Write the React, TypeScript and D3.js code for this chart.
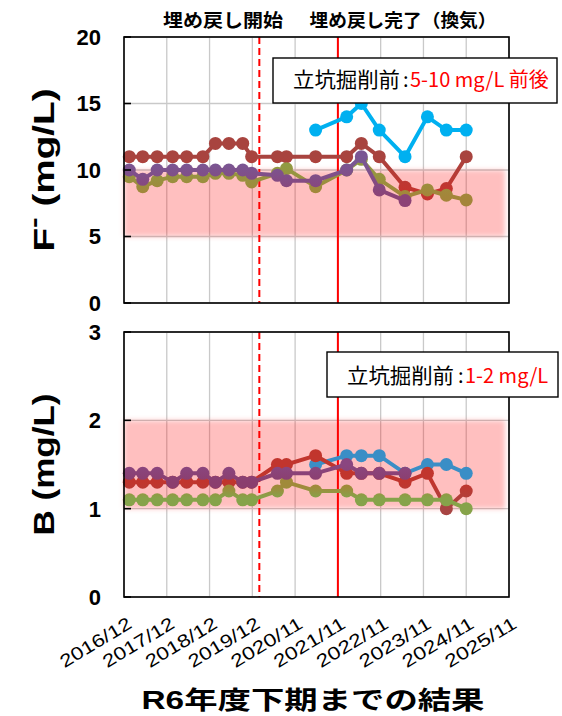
import React from 'react';
import * as d3 from 'd3';

// x axis tick labels (equally spaced in the original chart)
const tickLabels = [
    '2016/12', '2017/12', '2018/12', '2019/12', '2020/11',
    '2021/11', '2022/11', '2023/11', '2024/11', '2025/11',
];

// sampling dates
const sampleDates = [
    '2017-01-15', '2017-05-10', '2017-09-10', '2018-01-20', '2018-05-20',
    '2018-10-05', '2019-01-20', '2019-05-15', '2019-09-10', '2019-11-25',
    '2020-06-15', '2020-08-25', '2021-04-25', '2022-01-15', '2022-05-20',
    '2022-10-20', '2023-05-28', '2023-12-05', '2024-05-15', '2024-11-01',
];

// F- (mg/L)
const blueF = [null, null, null, null, null, null, null, null, null, null, null, null, 13, 14, 15, 13, 11, 14, 13, 13];
const redF = [11, 11, 11, 11, 11, 11, 12, 12, 12, 11, 11, 11, 11, 11, 12, 11, 8.7, 8.2, 8.6, 11];
const purpleF = [10, 9.3, 10, 10, 10, 10, 10, 10, 10, 9.75, 9.6, 9.2, 9.2, 10, 11, 8.5, 7.7, null, null, null];
const oliveF = [9.5, 8.75, 9.2, 9.5, 9.5, 9.5, 9.75, 9.75, 9.6, 9.1, 9.75, 10.1, 8.75, 10, 10.8, 9.3, 8.0, 8.5, 8.1, 7.75];

// B (mg/L)
const blueB = [null, null, null, null, null, null, null, null, null, null, null, null, 1.5, 1.6, 1.6, 1.6, 1.4, 1.5, 1.5, 1.4];
const redB = [1.3, 1.3, 1.3, 1.3, 1.3, 1.3, 1.3, 1.3, 1.3, 1.3, 1.5, 1.5, 1.6, 1.4, 1.4, 1.4, 1.3, 1.4, 1.0, 1.2];
const purpleB = [1.4, 1.4, 1.4, 1.3, 1.4, 1.4, 1.3, 1.4, 1.3, 1.3, 1.4, 1.4, 1.4, 1.5, 1.4, 1.4, 1.4, null, null, null];
const oliveB = [1.1, 1.1, 1.1, 1.1, 1.1, 1.1, 1.1, 1.2, 1.1, 1.1, 1.2, 1.3, 1.2, 1.2, 1.1, 1.1, 1.1, 1.1, 1.1, 1.0];

// pre-excavation ranges
const rangeF = [5, 10];
const rangeB = [1, 2];

const backfillStart = '2020-01-25';
const backfillEnd = '2021-11-01';

const W = 562;
const H = 716;
const left = 124;
const right = 509;
const FONT = "'Liberation Sans', Arial, sans-serif";
const JP = "'Noto Sans CJK JP', sans-serif";

const parseTick = d3.timeParse('%Y/%m');
const parseDay = d3.timeParse('%Y-%m-%d');
const tickDates = tickLabels.map(t => parseTick(t) as Date);
const dates = sampleDates.map(d => parseDay(d) as Date);

const x = d3
    .scaleTime()
    .domain(tickDates)
    .range(tickDates.map((_, i) => left + (i * (right - left)) / (tickDates.length - 1)));

function Panel({ id, top, bottom, yMax, yStep, band, series, title, titleLen }: any) {
    const y = d3.scaleLinear().domain([0, yMax]).range([bottom, top]);
    const yTicks = d3.range(0, yMax + yStep / 2, yStep);
    const line = d3
        .line<any>()
        .defined(d => d.v != null)
        .x(d => x(d.date))
        .y(d => y(d.v));

    return (
        <g>
            <defs>
                {series.map((s: any) => (
                    <linearGradient
                        key={s.key}
                        id={`${id}-${s.key}`}
                        gradientUnits="userSpaceOnUse"
                        x1={0}
                        x2={0}
                        y1={y(s.stops[0])}
                        y2={y(s.stops[1])}
                    >
                        <stop offset="0" stopColor={s.colors[0]} />
                        <stop offset="1" stopColor={s.colors[1]} />
                    </linearGradient>
                ))}
            </defs>

            {tickDates.map((d, i) => (
                <line key={i} x1={x(d)} x2={x(d)} y1={top} y2={bottom} stroke="#C9C9C9" strokeWidth={1.3} />
            ))}
            {yTicks.map(t => (
                <line key={t} x1={left} x2={right} y1={y(t)} y2={y(t)} stroke="#C9C9C9" strokeWidth={1.3} />
            ))}

            <rect
                x={left}
                y={y(band[1])}
                width={right - left - 4}
                height={y(band[0]) - y(band[1])}
                fill="#FF0000"
                fillOpacity={0.25}
                filter="url(#soft)"
            />

            <line
                x1={x(parseDay(backfillStart) as Date)}
                x2={x(parseDay(backfillStart) as Date)}
                y1={top}
                y2={bottom}
                stroke="#FF0000"
                strokeWidth={2}
                strokeDasharray="7,4"
            />
            <line
                x1={x(parseDay(backfillEnd) as Date)}
                x2={x(parseDay(backfillEnd) as Date)}
                y1={top}
                y2={bottom}
                stroke="#FF0000"
                strokeWidth={2}
            />

            {series.map((s: any) => {
                const pts = s.values.map((v: any, i: number) => ({ date: dates[i], v }));
                const col = `url(#${id}-${s.key})`;
                return (
                    <g key={s.key}>
                        <path d={line(pts) || ''} fill="none" stroke={col} strokeWidth={4} />
                        {pts
                            .filter((p: any) => p.v != null)
                            .map((p: any, i: number) => (
                                <circle key={i} cx={x(p.date)} cy={y(p.v)} r={6.5} fill={col} />
                            ))}
                    </g>
                );
            })}

            <rect x={left} y={top} width={right - left} height={bottom - top} fill="none" stroke="#000" strokeWidth={1.6} />
            {yTicks.map(t => (
                <line key={t} x1={left} x2={left + 7} y1={y(t)} y2={y(t)} stroke="#000" strokeWidth={1.6} />
            ))}
            {yTicks.map(t => (
                <text
                    key={t}
                    x={101}
                    y={y(t)}
                    dy="0.36em"
                    textAnchor="end"
                    fontSize={22}
                    fontWeight="bold"
                    fontFamily={FONT}
                >
                    {t}
                </text>
            ))}

            <text
                transform={`translate(54,${(top + bottom) / 2}) rotate(-90)`}
                textAnchor="middle"
                fontSize={29}
                fontWeight="bold"
                fontFamily={FONT}
                textLength={titleLen}
                lengthAdjust="spacingAndGlyphs"
            >
                {title}
            </text>
        </g>
    );
}

function Note({ x0, x1, y0, y1, label, value, valueX, baseline }: any) {
    return (
        <g fontFamily={JP} fontSize={20}>
            <rect x={x0} y={y0} width={x1 - x0} height={y1 - y0} fill="#fff" stroke="#000" strokeWidth={1.4} />
            <text x={x0 + 20} y={baseline} fill="#000" fontSize={21} textLength={107} lengthAdjust="spacingAndGlyphs">
                {label}
            </text>
            <text x={valueX - 7} y={baseline} fill="#000">
                :
            </text>
            <text x={valueX} y={baseline} fill="#FF0000">
                {value}
            </text>
        </g>
    );
}

export default function App() {
    const seriesF = [
        { key: 'blue', values: blueF, colors: ['#00B0F0', '#00B0F0'], stops: [15, 10] },
        { key: 'red', values: redF, colors: ['#A8443F', '#C4342F'], stops: [11, 8.5] },
        { key: 'olive', values: oliveF, colors: ['#919A42', '#A4853A'], stops: [10.3, 8] },
        { key: 'purple', values: purpleF, colors: ['#7A5693', '#8C4276'], stops: [10.5, 8] },
    ];
    const seriesB = [
        { key: 'blue', values: blueB, colors: ['#3A8EC6', '#3A8EC6'], stops: [1.6, 1.4] },
        { key: 'red', values: redB, colors: ['#C1352D', '#A84543'], stops: [1.3, 1.0] },
        { key: 'olive', values: oliveB, colors: ['#A08A3A', '#86A34A'], stops: [1.25, 1.12] },
        { key: 'purple', values: purpleB, colors: ['#8A4680', '#8B3E6E'], stops: [1.5, 1.3] },
    ];

    return (
        <svg
            width={W}
            height={H}
            style={{ position: 'absolute', left: 0, top: 0, background: '#fff' }}
        >
            <defs>
                <filter id="soft" x="-10%" y="-30%" width="120%" height="160%">
                    <feGaussianBlur stdDeviation={2.5} />
                </filter>
            </defs>

            <text x={223} y={27} textAnchor="middle" fontFamily={JP} fontWeight="bold" fontSize={18} textLength={120} lengthAdjust="spacingAndGlyphs">
                埋め戻し開始
            </text>
            <text x={403} y={27} textAnchor="middle" fontFamily={JP} fontWeight="bold" fontSize={18} textLength={187} lengthAdjust="spacingAndGlyphs">
                埋め戻し完了（換気）
            </text>

            <Panel
                id="f"
                top={37}
                bottom={303}
                yMax={20}
                yStep={5}
                band={rangeF}
                series={seriesF}
                titleLen={163}
                title={
                    <>
                        F
                        <tspan fontSize={24} dy={-12}>
                            -
                        </tspan>
                        <tspan dy={12}> (mg/L)</tspan>
                    </>
                }
            />
            <Panel
                id="b"
                top={332}
                bottom={597}
                yMax={3}
                yStep={1}
                band={rangeB}
                series={seriesB}
                titleLen={142}
                title="B (mg/L)"
            />

            <Note x0={273} x1={557} y0={58} y1={103} label="立坑掘削前" value="5-10 mg/L 前後" valueX={410} baseline={87} />
            <Note x0={327} x1={558} y0={352} y1={397} label="立坑掘削前" value="1-2 mg/L" valueX={465} baseline={383} />

            {tickDates.map((d, i) => (
                <text
                    key={i}
                    transform={`translate(${x(d) + 9},627) rotate(-31)`}
                    textAnchor="end"
                    fontSize={18}
                    fontFamily={FONT}
                    textLength={80}
                    lengthAdjust="spacingAndGlyphs"
                >
                    {tickLabels[i]}
                </text>
            ))}

            <text
                x={313}
                y={709}
                textAnchor="middle"
                fontSize={25}
                fontWeight="bold"
                fontFamily={`'Liberation Sans', ${JP}`}
                textLength={343}
                lengthAdjust="spacingAndGlyphs"
            >
                R6年度下期までの結果
            </text>
        </svg>
    );
}
